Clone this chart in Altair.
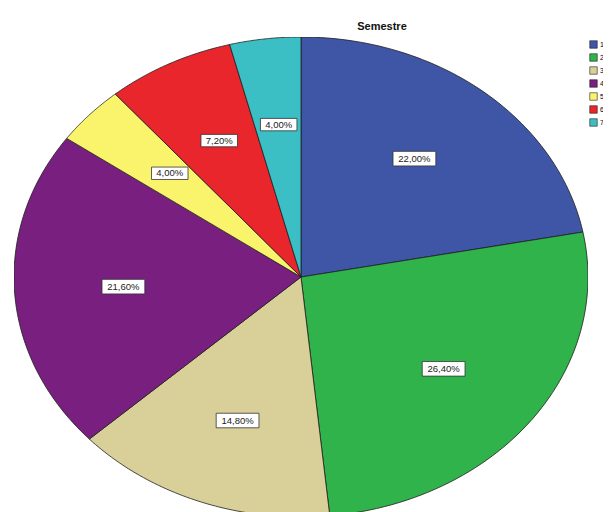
import altair as alt
import pandas as pd

categories = ["1", "2", "3", "4", "5", "6", "7"]
percents = [22.0, 26.4, 14.8, 21.6, 4.0, 7.2, 4.0]
labels = ["22,00%", "26,40%", "14,80%", "21,60%", "4,00%", "7,20%", "4,00%"]
colors = ["#3f55a6", "#2fb34a", "#d9cf98", "#781f7f", "#f9f46c", "#e8262b", "#3bbfc4"]

df = pd.DataFrame({"cat": categories, "value": percents, "label": labels,
                   "idx": list(range(len(categories)))})

N = 60
base = alt.Chart(df).transform_window(
    cum="sum(value)", sort=[alt.SortField("idx")], frame=[None, 0]
).transform_calculate(
    a0="2*PI*(datum.cum - datum.value)/100",
    a1="2*PI*datum.cum/100",
)

color_scale = alt.Scale(domain=categories, range=colors)
xs = alt.Scale(domain=[-1, 1], nice=False, zero=False)
ys = alt.Scale(domain=[-235 / 240, 1], nice=False, zero=False)

slices = base.transform_calculate(
    seq=f"sequence(-1, {N + 2})"
).transform_flatten(["seq"]).transform_calculate(
    t=f"datum.a0 + (datum.a1 - datum.a0) * datum.seq / {N}",
    px=f"(datum.seq < 0 || datum.seq > {N}) ? 0 : sin(datum.t)",
    py=f"(datum.seq < 0 || datum.seq > {N}) ? 0 : cos(datum.t)",
).mark_line(filled=True, stroke="#1e1e1e", strokeWidth=0.8, interpolate="linear",
            clip=True).encode(
    x=alt.X("px:Q", scale=xs, axis=None),
    y=alt.Y("py:Q", scale=ys, axis=None),
    color=alt.Color("cat:N", scale=color_scale, legend=alt.Legend(
        title=None, orient="none", legendX=575, legendY=3,
        symbolType="square", symbolSize=56, symbolStrokeColor="#222",
        symbolStrokeWidth=0.6, labelFontSize=7, labelFont="Liberation Sans",
        rowPadding=2, padding=0, labelOffset=2)),
    detail="cat:N",
    order="seq:Q",
)

lab = base.transform_calculate(
    mid="(datum.a0 + datum.a1)/2",
    lx="0.62*sin(datum.mid)",
    ly="0.64*cos(datum.mid)",
    bsize="pow(length(datum.label)*6.3 + 5, 2)",
)

boxes = lab.mark_point(
    shape="M-1,-0.34L1,-0.34L1,0.34L-1,0.34Z", filled=True, fill="white",
    stroke="#333", strokeWidth=0.8, opacity=1
).encode(
    x=alt.X("lx:Q", scale=xs, axis=None),
    y=alt.Y("ly:Q", scale=ys, axis=None),
    size=alt.Size("bsize:Q", scale=None, legend=None),
)

texts = lab.mark_text(font="Liberation Sans", fontSize=9.5, color="#222").encode(
    x=alt.X("lx:Q", scale=xs, axis=None),
    y=alt.Y("ly:Q", scale=ys, axis=None),
    text="label:N",
)

chart = alt.layer(slices, boxes, texts).properties(
    width=574, height=475,
    title=alt.TitleParams("Semestre", anchor="middle", dx=81, offset=5,
                          font="Liberation Sans", fontSize=11, fontWeight="bold",
                          color="#111"),
    autosize=alt.AutoSizeParams(type="none"),
    padding={"left": 6, "top": 29, "right": 15, "bottom": 0},
).configure_view(stroke=None)

chart.save("out.html", embed_options={"renderer": "svg", "actions": False})
